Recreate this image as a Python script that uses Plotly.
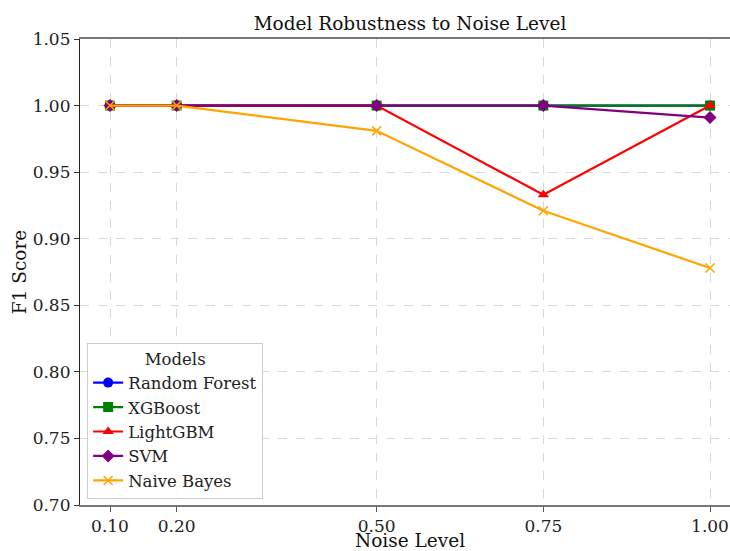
import plotly.graph_objects as go

noise_levels = [0.10, 0.20, 0.50, 0.75, 1.00]
tick_labels = ["0.10", "0.20", "0.50", "0.75", "1.00"]
rf = [1.0, 1.0, 1.0, 1.0, 1.0]
xgb = [1.0, 1.0, 1.0, 1.0, 1.0]
lgbm = [1.0, 1.0, 1.0, 0.933, 1.0]
svm = [1.0, 1.0, 1.0, 1.0, 0.991]
nb = [1.0, 1.0, 0.981, 0.921, 0.878]

series = [
    ("Random Forest", rf, "blue", "circle"),
    ("XGBoost", xgb, "green", "square"),
    ("LightGBM", lgbm, "red", "triangle-up"),
    ("SVM", svm, "purple", "diamond"),
    ("Naive Bayes", nb, "orange", "x-thin"),
]

font = "DejaVu Serif"
fig = go.Figure()
for name, vals, color, sym in series:
    fig.add_trace(go.Scatter(
        x=noise_levels, y=vals, name=name, mode="lines+markers",
        line=dict(color=color, width=2.2),
        marker=dict(symbol=sym, size=10 if sym != "x-thin" else 9, color=color,
                    line=dict(color=color, width=1.5 if sym == "x-thin" else 0)),
    ))

fig.update_layout(
    width=730, height=551,
    margin=dict(l=80, r=0, t=39, b=46, autoexpand=False),
    paper_bgcolor="white", plot_bgcolor="white",
    font=dict(family=font, size=16, color="#222"),
    title=dict(text="Model Robustness to Noise Level", x=0.5077, xref="paper",
               xanchor="center", y=1 - 24 / 551, yanchor="middle",
               font=dict(family=font, size=18.5, color="#111")),
    legend=dict(
        x=0.011, y=0.013, xanchor="left", yanchor="bottom",
        bgcolor="rgba(255,255,255,0.9)", bordercolor="#cccccc", borderwidth=1,
        title=dict(text="Models", side="top center", font=dict(family=font, size=16.5)),
        font=dict(family=font, size=16.5, color="#222"),
        tracegroupgap=0,
    ),
    showlegend=True,
    annotations=[dict(text="Noise Level", xref="paper", yref="paper",
                      x=0.5077, y=-35 / 466, xanchor="center", yanchor="middle",
                      showarrow=False,
                      font=dict(family=font, size=18.5, color="#111"))],
)
fig.update_xaxes(
    range=[0.055, 1.030], tickvals=noise_levels, ticktext=tick_labels,
    automargin=False,
    showgrid=True, gridcolor="#d9d9d9", griddash="dash", gridwidth=1,
    showline=True, linecolor="#777777", linewidth=2, mirror=True,
    ticks="outside", ticklen=5, tickcolor="#555", tickwidth=1,
    tickfont=dict(family=font, size=17, color="#222"),
    zeroline=False,
)
fig.update_yaxes(
    range=[0.70, 1.05], tickvals=[0.70, 0.75, 0.80, 0.85, 0.90, 0.95, 1.00, 1.05],
    ticktext=["0.70", "0.75", "0.80", "0.85", "0.90", "0.95", "1.00", "1.05"],
    automargin=False,
    showgrid=True, gridcolor="#d9d9d9", griddash="dash", gridwidth=1,
    showline=True, linecolor="#222222", linewidth=1.2,
    ticks="outside", ticklen=5, tickcolor="#333", tickwidth=1,
    tickfont=dict(family=font, size=17, color="#222"),
    title=dict(text="F1 Score", font=dict(family=font, size=18.5, color="#111"), standoff=1),
    zeroline=False,
)
fig.write_html("out.html")
